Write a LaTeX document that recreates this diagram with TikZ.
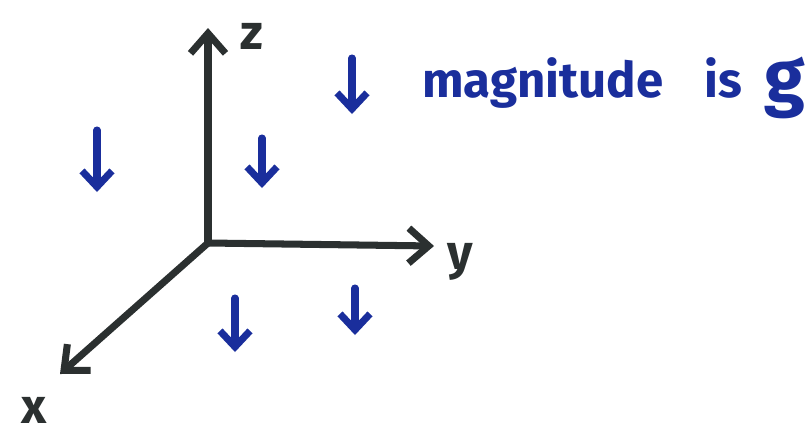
\documentclass[tikz,border=0pt]{standalone}
\usepackage{fontspec}
\setmainfont{Fira Sans}
\usetikzlibrary{arrows.meta}
\usetikzlibrary{positioning}

\definecolor{inkgray}{HTML}{2B3030}
\definecolor{inkblue}{HTML}{1A2E9C}

\begin{document}
\begin{tikzpicture}[
    x=0.02cm, y=-0.02cm,
    axis/.style={draw=inkgray, line width=4pt, line cap=round, line join=round,
        -{Straight Barb[length=4mm, width=7mm, line width=4pt]}},
    fall/.style={draw=inkblue, line width=4pt, line cap=round, line join=round,
        -{Straight Barb[length=3.2mm, width=6mm, line width=4pt]}},
    axlabel/.style={text=inkgray, font=\fontsize{28}{30}\selectfont\bfseries},
    note/.style={text=inkblue, inner sep=0pt, font=\fontsize{28}{30}\selectfont\bfseries}
]
\useasboundingbox (0,0) rectangle (809,434);

% --- Axes ---
\coordinate (o) at (208,243);
\coordinate (zend) at (208,28);
\coordinate (yend) at (434,246);
\coordinate (xend) at (60,374);

\draw[axis] (o) -- (zend);
\draw[axis] (o) -- (yend);
\draw[axis] (o) -- (xend);

% --- Axis labels ---
\node[axlabel] (zlab) at (252,36) {z};
\node[axlabel] (ylab) at (460,262) {y};
\node[axlabel] (xlab) at (34,410) {x};

% --- Gravity arrows ---
\foreach \i/\px/\ptop/\pbot in {1/97/130/192, 2/262/138/188, 3/352/58/114, 4/235/298/352, 5/355/288/335}
{
    \coordinate (a\i) at (\px,\ptop);
    \coordinate (b\i) at (\px,\pbot);
    \draw[fall] (a\i) -- (b\i);
}

% --- Note ---
\node[note, anchor=base west] (mag) at (422,97) {magnitude};
\node[note, anchor=base west] (isword) at (704,97) {is};
\node[note, anchor=base, font=\fontsize{42}{42}\selectfont\bfseries] (gval) at (785,102) {g};

\end{tikzpicture}
\end{document}
